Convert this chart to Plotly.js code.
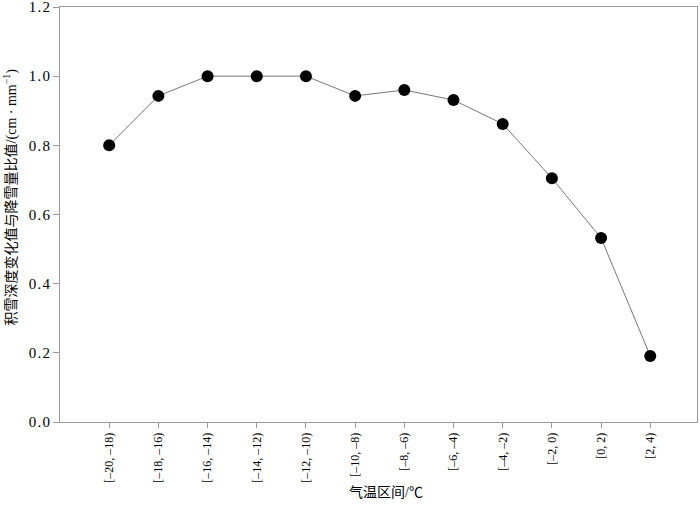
<!DOCTYPE html>
<html>
<head>
<meta charset="utf-8">
<script src="https://cdn.plot.ly/plotly-3.0.1.min.js"></script>
<style>html,body{margin:0;padding:0;background:#fff;}#chart{width:700px;height:509px;}</style>
</head>
<body>
<div id="chart"></div>
<script>
const categories = ["[–20, –18)", "[–18, –16)", "[–16, –14)", "[–14, –12)", "[–12, –10)", "[–10, –8)", "[–8, –6)", "[–6, –4)", "[–4, –2)", "[–2, 0)", "[0, 2)", "[2, 4)"];
const ratioValues = [0.80, 0.943, 1.0, 1.0, 1.0, 0.943, 0.96, 0.931, 0.862, 0.705, 0.532, 0.191];
const yTickVals = [0, 0.2, 0.4, 0.6, 0.8, 1.0, 1.2];
const yTickText = ["0\u200A.\u200A0", "0\u200A.\u200A2", "0\u200A.\u200A4", "0\u200A.\u200A6", "0\u200A.\u200A8", "1\u200A.\u200A0", "1\u200A.\u200A2"];
const xTitle = "气温区间/℃";
const yTitle = "积雪深度变化值与降雪量比值/(cm · mm<sup>−1</sup>)";

const FONT = "'Liberation Serif', 'Times New Roman', 'Noto Sans CJK SC', serif";
const CJK = "'Liberation Serif', 'Noto Sans CJK SC', serif";
const axisColor = "#999999";

const trace = {
  x: categories,
  y: ratioValues,
  type: "scatter",
  mode: "lines+markers",
  line: {color: "#777777", width: 1},
  marker: {color: "#000000", size: 12},
  cliponaxis: false,
  hoverinfo: "none"
};

const layout = {
  width: 700,
  height: 509,
  margin: {l: 60, r: 3, t: 7, b: 87},
  paper_bgcolor: "#ffffff",
  plot_bgcolor: "#ffffff",
  showlegend: false,
  font: {family: FONT, color: "#000000", size: 14},
  xaxis: {
    type: "category",
    range: [-1, 11.95],
    showgrid: false,
    zeroline: false,
    showline: true,
    linecolor: axisColor,
    linewidth: 1,
    mirror: true,
    ticks: "outside",
    ticklen: 5,
    tickcolor: axisColor,
    tickangle: -90,
    tickfont: {family: FONT, size: 12, color: "#000"}
  },
  yaxis: {
    range: [0, 1.2],
    tickvals: yTickVals,
    ticktext: yTickText,
    ticklabeloverflow: "allow",
    showgrid: false,
    zeroline: false,
    showline: true,
    linecolor: axisColor,
    linewidth: 1,
    mirror: true,
    ticks: "outside",
    ticklen: 6,
    tickcolor: axisColor,
    tickfont: {family: FONT, size: 15, color: "#000"}
  },
  annotations: [
    {
      text: xTitle, xref: "paper", yref: "paper",
      x: 0.512, y: -0.17, xanchor: "center", yanchor: "middle",
      showarrow: false, font: {family: CJK, size: 14, color: "#000"}
    },
    {
      text: yTitle, xref: "paper", yref: "paper",
      x: -0.078, y: 0.542, xanchor: "center", yanchor: "middle", textangle: -90,
      showarrow: false, font: {family: CJK, size: 14, color: "#000"}
    }
  ]
};

Plotly.newPlot("chart", [trace], layout, {displayModeBar: false, staticPlot: true});
</script>
</body>
</html>
